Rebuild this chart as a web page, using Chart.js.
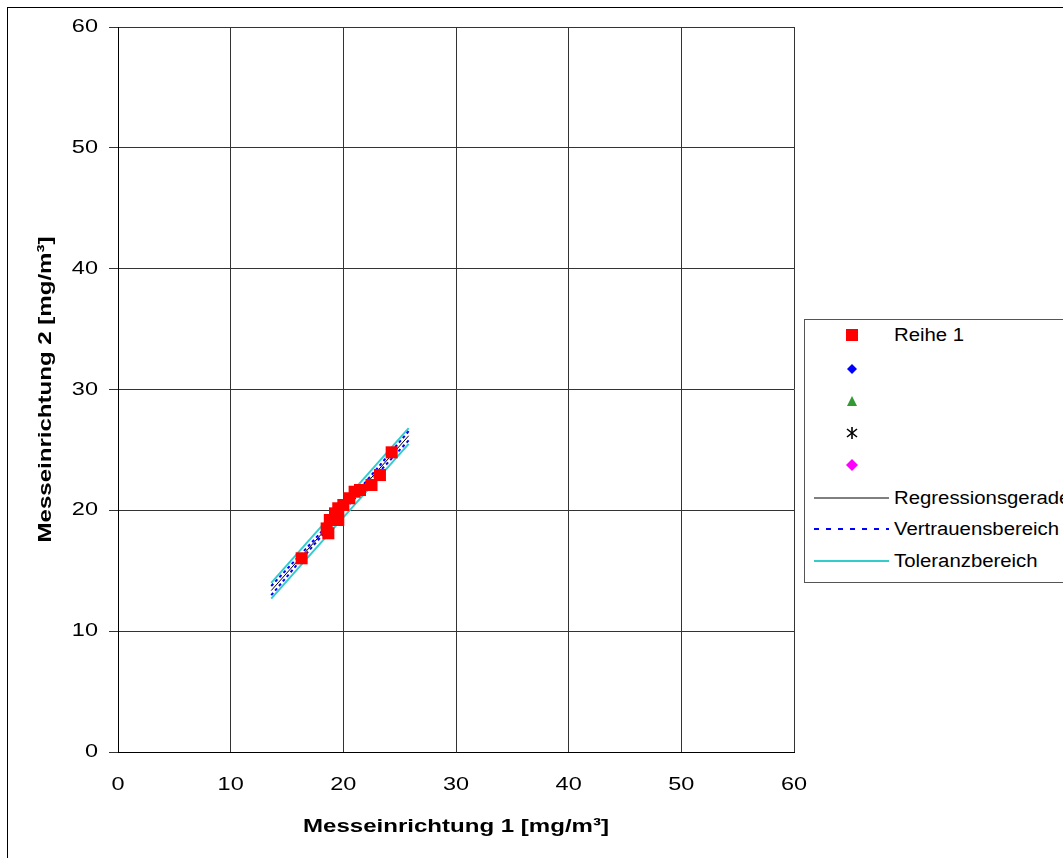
<!DOCTYPE html>
<html>
<head>
<meta charset="utf-8">
<script src="https://cdn.jsdelivr.net/npm/chart.js@4/dist/chart.umd.min.js"></script>
<style>
  html,body{margin:0;padding:0;background:#fff;overflow:hidden;}
  #wrap{position:relative;width:1063px;height:858px;overflow:hidden;}
  #frame{position:absolute;left:7px;top:7px;width:1200px;height:1000px;border:1px solid #000;}
  canvas{position:absolute;left:0;top:0;}
  #legend{position:absolute;left:804px;top:319px;width:400px;height:262px;border:1px solid #555;background:#fff;
    font-family:"Liberation Sans",Arial,sans-serif;font-size:18px;color:#000;}
  .row{position:absolute;left:0;height:30px;}
  .row svg{position:absolute;left:0;top:0;}
  .row span{position:absolute;left:89px;top:4px;white-space:nowrap;line-height:22px;transform:scaleX(1.13);transform-origin:0 50%;}
</style>
</head>
<body>
<div id="wrap">
  <div id="frame"></div>
  <canvas id="c" width="1063" height="858"></canvas>
  <div id="legend"></div>
</div>
<script>
// ---- data ----
const seriesName = "Reihe 1";
const pointsX = [16.3, 18.52, 18.67, 18.8, 19.26, 19.55, 19.55, 20.0, 20.53, 21.0, 21.48, 22.5, 23.25, 24.29];
const pointsY = [16.03, 18.5, 18.1, 19.2, 19.75, 19.2, 20.17, 20.44, 21.0, 21.54, 21.68, 22.1, 22.92, 24.8];

const regX = [13.6, 25.8];
const regY = [13.36, 26.17];

const confX = [13.6, 16.7, 19.7, 22.8, 25.8];
const confUpper = [13.74, 16.84, 19.89, 23.24, 26.55];
const confLower = [12.98, 16.40, 19.65, 22.80, 25.79];

const tolX = [13.6, 25.8];
const tolUpper = [14.0, 26.8];
const tolLower = [12.7, 25.5];

const axisMin = 0, axisMax = 60, axisStep = 10;
const xTitle = "Messeinrichtung 1 [mg/m³]";
const yTitle = "Messeinrichtung 2 [mg/m³]";
const lineNames = ["Regressionsgerade", "Vertrauensbereich", "Toleranzbereich"];

// ---- build ----
const zip = (xs, ys) => xs.map((x, i) => ({x: x, y: ys[i]}));
const FONT = '"Liberation Sans", Arial, sans-serif';
const REG_COLOR = '#000000', CONF_COLOR = '#0000ff', TOL_COLOR = '#33cccc';

// the reference text is drawn slightly wider along its baseline
const canvas = document.getElementById('c');
const ctx2d = canvas.getContext('2d');
const origFillText = ctx2d.fillText;
ctx2d.fillText = function (text, x, y, maxWidth) {
  const k = /bold/.test(this.font) ? 1.3 : 1.27;
  this.save();
  this.translate(x, y);
  this.scale(k, 1);
  if (maxWidth === undefined) origFillText.call(this, text, 0, 0);
  else origFillText.call(this, text, 0, 0, maxWidth / k);
  this.restore();
};

const lineDs = (label, xs, ys, color, width, dash) => ({
  type: 'scatter', label: label, data: zip(xs, ys), showLine: true,
  borderColor: color, backgroundColor: color, borderWidth: width, borderDash: dash || [],
  pointRadius: 0, pointHoverRadius: 0, tension: 0
});

new Chart(canvas, {
  type: 'scatter',
  data: {
    datasets: [
      {label: seriesName, data: zip(pointsX, pointsY), pointStyle: 'rect', pointRadius: 8.5,
       backgroundColor: '#ff0000', borderColor: '#ff0000', borderWidth: 0},
      lineDs(lineNames[0], regX, regY, REG_COLOR, 1),
      lineDs(lineNames[1], confX, confUpper, CONF_COLOR, 2, [3, 3]),
      lineDs(lineNames[1], confX, confLower, CONF_COLOR, 2, [3, 3]),
      lineDs(lineNames[2], tolX, tolUpper, TOL_COLOR, 2),
      lineDs(lineNames[2], tolX, tolLower, TOL_COLOR, 2)
    ]
  },
  options: {
    responsive: false, animation: false, devicePixelRatio: 1,
    layout: {padding: {left: 0, top: 27, right: 269, bottom: 0}},
    plugins: {legend: {display: false}, tooltip: {enabled: false}},
    scales: {
      x: {
        type: 'linear', min: axisMin, max: axisMax,
        ticks: {stepSize: axisStep, color: '#000', font: {family: FONT, size: 18.5}, padding: 22},
        grid: {color: '#333', lineWidth: 1, drawTicks: false},
        border: {color: '#000', width: 1},
        title: {display: true, text: xTitle, color: '#000', font: {family: FONT, size: 18.5, weight: 'bold'}, padding: {top: 0, bottom: 20}},
        afterFit: s => { s.height = 106; }
      },
      y: {
        type: 'linear', min: axisMin, max: axisMax,
        ticks: {stepSize: axisStep, color: '#000', font: {family: FONT, size: 18.5}, padding: 11},
        grid: {color: '#333', lineWidth: 1, tickLength: 9},
        border: {color: '#000', width: 1},
        title: {display: true, text: yTitle, color: '#000', font: {family: FONT, size: 18.5, weight: 'bold'}, padding: {top: 35, bottom: 0}},
        afterFit: s => { s.width = 118; }
      }
    }
  }
});

// ---- legend (HTML) ----
const legend = document.getElementById('legend');
const rows = [
  {top: 0,   svg: '<rect x="41" y="9" width="12" height="12" fill="#ff0000"/>', text: seriesName},
  {top: 34,  svg: '<polygon points="47,10 52,15 47,20 42,15" fill="#0000ff"/>', text: ''},
  {top: 67,  svg: '<polygon points="47,9 52,19 42,19" fill="#339933"/>', text: ''},
  {top: 98,  svg: '<g stroke="#000" stroke-width="1.6"><line x1="47" y1="9" x2="47" y2="21"/><line x1="42" y1="11" x2="52" y2="19"/><line x1="52" y1="11" x2="42" y2="19"/></g>', text: ''},
  {top: 130, svg: '<polygon points="47,9 53,15 47,21 41,15" fill="#ff00ff"/>', text: ''},
  {top: 163, svg: '<line x1="9" y1="15" x2="84" y2="15" stroke="#000" stroke-width="1"/>', text: lineNames[0]},
  {top: 194, svg: '<line x1="9" y1="15" x2="84" y2="15" stroke="#0000ff" stroke-width="2" stroke-dasharray="5,7"/>', text: lineNames[1]},
  {top: 226, svg: '<line x1="9" y1="15" x2="84" y2="15" stroke="#33cccc" stroke-width="2"/>', text: lineNames[2]}
];
rows.forEach(r => {
  const d = document.createElement('div');
  d.className = 'row';
  d.style.top = r.top + 'px';
  d.style.width = '400px';
  d.innerHTML = '<svg width="100" height="30">' + r.svg + '</svg>' + (r.text ? '<span>' + r.text + '</span>' : '');
  legend.appendChild(d);
});
</script>
</body>
</html>
